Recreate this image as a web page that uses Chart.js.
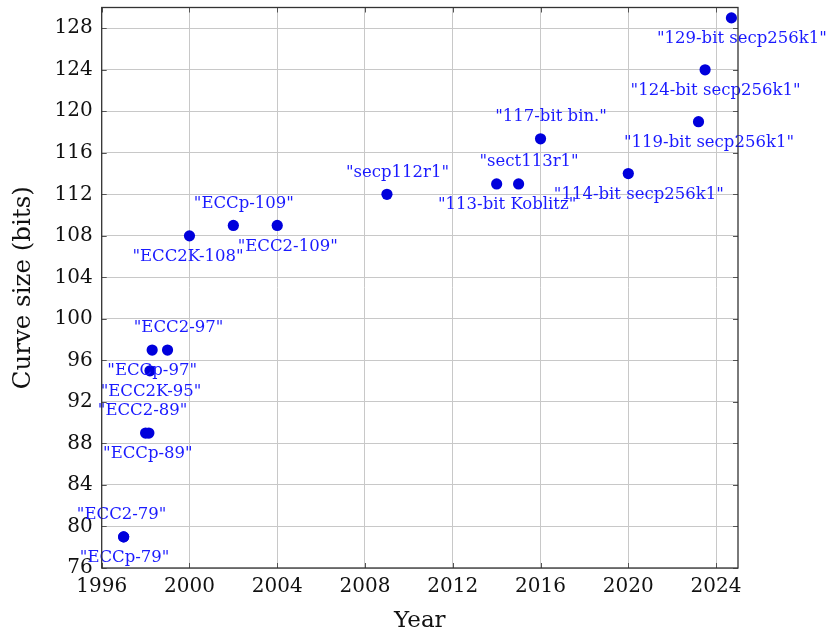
<!DOCTYPE html>
<html>
<head>
<meta charset="utf-8">
<script src="https://cdn.jsdelivr.net/npm/chart.js@4.4.1/dist/chart.umd.min.js"></script>
<style>
  html, body { margin: 0; padding: 0; background: #ffffff; }
  #wrap { width: 831px; height: 633px; position: relative; }
</style>
</head>
<body>
<div id="wrap"><canvas id="c" width="831" height="633"></canvas></div>
<script>
// ECDLP records: curve name, year solved, curve size in bits
const curveNames = [
  '"ECC2-79"', '"ECCp-79"', '"ECC2-89"', '"ECCp-89"', '"ECCp-97"', '"ECC2K-95"',
  '"ECC2-97"', '"ECC2K-108"', '"ECCp-109"', '"ECC2-109"', '"secp112r1"',
  '"113-bit Koblitz"', '"sect113r1"', '"117-bit bin."', '"114-bit secp256k1"',
  '"119-bit secp256k1"', '"124-bit secp256k1"', '"129-bit secp256k1"'
];
const recordYears = [1997, 1997, 1998, 1998.15, 1998.3, 1998.2, 1999, 2000, 2002, 2004,
  2009, 2014, 2015, 2016, 2020, 2023.2, 2023.5, 2024.7];
const curveBits = [79, 79, 89, 89, 97, 95, 97, 108, 109, 109, 112, 113, 113, 117.35,
  114, 119, 124, 129];
// where each name sits relative to its point: 1 = above, -1 = below
const labelSide = [1, -1, 1, -1, -1, -1, 1, -1, 1, -1, 1, -1, 1, 1, -1, -1, -1, -1];
// small horizontal nudges (px) for the name labels
const labelShift = [-2, 1, -3, -1, 0, 1, 11, -1.5, 10.5, 10.5, 10.5, 10.5, 10.5, 10.5,
  10.5, 10.5, 10.5, 10.5];

const xTicks = [1996, 2000, 2004, 2008, 2012, 2016, 2020, 2024];
const yTicks = [76, 80, 84, 88, 92, 96, 100, 104, 108, 112, 116, 120, 124, 128];

const points = recordYears.map((yr, i) => ({ x: yr, y: curveBits[i] }));

const SERIF = '"DejaVu Serif", "Liberation Serif", serif';

// name labels next to each point
const pointLabels = {
  id: 'pointLabels',
  afterDatasetsDraw(chart) {
    const ctx = chart.ctx;
    const meta = chart.getDatasetMeta(0);
    ctx.save();
    ctx.font = '16.5px ' + SERIF;
    ctx.fillStyle = '#1a1aff';
    ctx.textAlign = 'center';
    ctx.textBaseline = 'middle';
    meta.data.forEach((el, i) => {
      const dy = labelSide[i] > 0 ? -22 : 21;
      ctx.fillText(curveNames[i], el.x + labelShift[i], el.y + dy);
    });
    ctx.restore();
  }
};

// frame and inward tick marks on all four sides
const frameTicks = {
  id: 'frameTicks',
  afterDraw(chart) {
    const { ctx, chartArea: a, scales } = chart;
    const len = 5;
    ctx.save();
    ctx.strokeStyle = '#555555';
    ctx.lineWidth = 1;
    ctx.beginPath();
    xTicks.forEach(v => {
      const px = Math.round(scales.x.getPixelForValue(v)) + 0.5;
      ctx.moveTo(px, a.bottom); ctx.lineTo(px, a.bottom - len);
      ctx.moveTo(px, a.top); ctx.lineTo(px, a.top + len);
    });
    yTicks.forEach(v => {
      const py = Math.round(scales.y.getPixelForValue(v)) + 0.5;
      ctx.moveTo(a.left, py); ctx.lineTo(a.left + len, py);
      ctx.moveTo(a.right, py); ctx.lineTo(a.right - len, py);
    });
    ctx.stroke();
    ctx.strokeStyle = '#333333';
    ctx.lineWidth = 1.3;
    ctx.strokeRect(a.left, a.top, a.right - a.left, a.bottom - a.top);
    ctx.restore();
  }
};

const keepTicks = list => scale => {
  scale.ticks = list.map(v => ({ value: v }));
};

new Chart(document.getElementById('c'), {
  type: 'scatter',
  data: {
    datasets: [{
      data: points,
      backgroundColor: 'rgb(0,0,220)',
      borderWidth: 0,
      pointRadius: 5.6,
      pointHoverRadius: 5.6
    }]
  },
  options: {
    responsive: false,
    animation: false,
    events: [],
    layout: { padding: { left: 9, right: 93, top: 7.5, bottom: 0 } },
    plugins: { legend: { display: false }, tooltip: { enabled: false } },
    scales: {
      x: {
        type: 'linear',
        min: 1996, max: 2025,
        afterBuildTicks: keepTicks(xTicks),
        afterFit: s => { s.height = 65; s.paddingLeft = 0; s.paddingRight = 0; },
        grid: { color: '#c8c8c8', lineWidth: 1, drawTicks: false },
        border: { display: false },
        ticks: {
          color: '#111', padding: 7, maxRotation: 0, autoSkip: false,
          font: { family: SERIF, size: 20 },
          callback: v => String(v)
        },
        title: {
          display: true, text: 'Year', color: '#111',
          font: { family: SERIF, size: 23 }, padding: { top: 0, bottom: -2 }
        }
      },
      y: {
        type: 'linear',
        min: 76, max: 130,
        afterBuildTicks: keepTicks(yTicks),
        afterFit: s => { s.width = 92.7; s.paddingTop = 0; s.paddingBottom = 0; },
        grid: { color: '#c8c8c8', lineWidth: 1, drawTicks: false },
        border: { display: false },
        ticks: {
          color: '#111', padding: 9, autoSkip: false,
          font: { family: SERIF, size: 20 },
          callback: v => String(v)
        },
        title: {
          display: true, text: 'Curve size (bits)', color: '#111',
          font: { family: SERIF, size: 24.5 }, padding: { top: 0, bottom: 0 }
        }
      }
    }
  },
  plugins: [pointLabels, frameTicks]
});
</script>
</body>
</html>
